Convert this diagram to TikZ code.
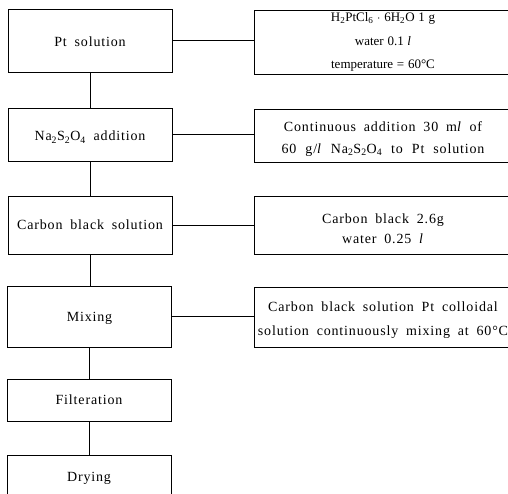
\documentclass[tikz,border=0pt]{standalone}
\usepackage{fontspec}
\setmainfont{Liberation Serif}
\newfontfamily\spacedfont{Liberation Serif}[LetterSpace=6,WordSpace=1.8]
\newfontfamily\plainfont{Liberation Serif}[WordSpace=1.15]
\newcommand\chemsub[1]{\textsubscript{#1}}
\newcommand\topgap[1]{\rule{0pt}{#1}}
\tikzset{
  boxbase/.style={draw, line width=0.6pt, inner sep=0pt, align=center},
  lbox/.style={boxbase, minimum width=164pt, text depth=0pt, font=\spacedfont\fontsize{14}{22}\selectfont},
  rbox/.style={boxbase, minimum width=258pt, font=\spacedfont\fontsize{14}{22}\selectfont},
  link/.style={line width=0.6pt}
}
\begin{document}
\begin{tikzpicture}[x=1pt,y=-1pt]
\useasboundingbox (0,0) rectangle (508,494);
% left column
\node[lbox, minimum height=63pt] (pt)  at (90,40.5)  {\topgap{13pt}Pt solution};
\node[lbox, minimum height=53pt] (na)  at (90,134.5) {\topgap{13pt}Na\chemsub{2}S\chemsub{2}O\chemsub{4} addition};
\node[lbox, minimum height=58pt] (cb)  at (90,225)   {Carbon black solution};
\node[lbox, minimum height=61pt] (mix) at (89.5,316.5) {Mixing};
\node[lbox, minimum height=42pt] (fil) at (89,400)   {Filteration};
\node[lbox, minimum height=44pt] (dry) at (89,477)   {Drying};
% right column
\node[rbox, minimum height=64pt, font=\plainfont\fontsize{13}{23.5}\selectfont] (r1) at (383,42)
  {H\chemsub{2}PtCl\chemsub{6} $\cdot$ 6H\chemsub{2}O 1 g\\ water 0.1 \textit{l}\\ temperature = 60°C};
\node[rbox, minimum height=53pt] (r2) at (383,135.5)
  {\topgap{16.5pt}Continuous addition 30 m\textit{l} of\\ {\spaceskip=9pt 60 g/\textit{l} Na\chemsub{2}S\chemsub{2}O\chemsub{4} to Pt solution}};
\node[rbox, minimum height=58pt, font=\spacedfont\fontsize{14}{20}\selectfont] (r3) at (383,225)
  {\topgap{17.5pt}Carbon black 2.6g\\ water 0.25 \textit{l}};
\node[rbox, minimum height=60pt, font=\spacedfont\fontsize{14}{24}\selectfont] (r4) at (383,317)
  {\topgap{15.5pt}Carbon black solution Pt colloidal\\ solution continuously mixing at 60°C};
% vertical connectors
\draw[link] (pt.south) -- (pt.south |- na.north);
\draw[link] (na.south) -- (na.south |- cb.north);
\draw[link] (cb.south) -- (cb.south |- mix.north);
\draw[link] (mix.south) -- (mix.south |- fil.north);
\draw[link] (fil.south) -- (fil.south |- dry.north);
% horizontal connectors
\draw[link] (pt.east)  -- (pt.east -| r1.west);
\draw[link] (na.east)  -- (na.east -| r2.west);
\draw[link] (cb.east)  -- (cb.east -| r3.west);
\draw[link] (mix.east) -- (mix.east -| r4.west);
\end{tikzpicture}
\end{document}
